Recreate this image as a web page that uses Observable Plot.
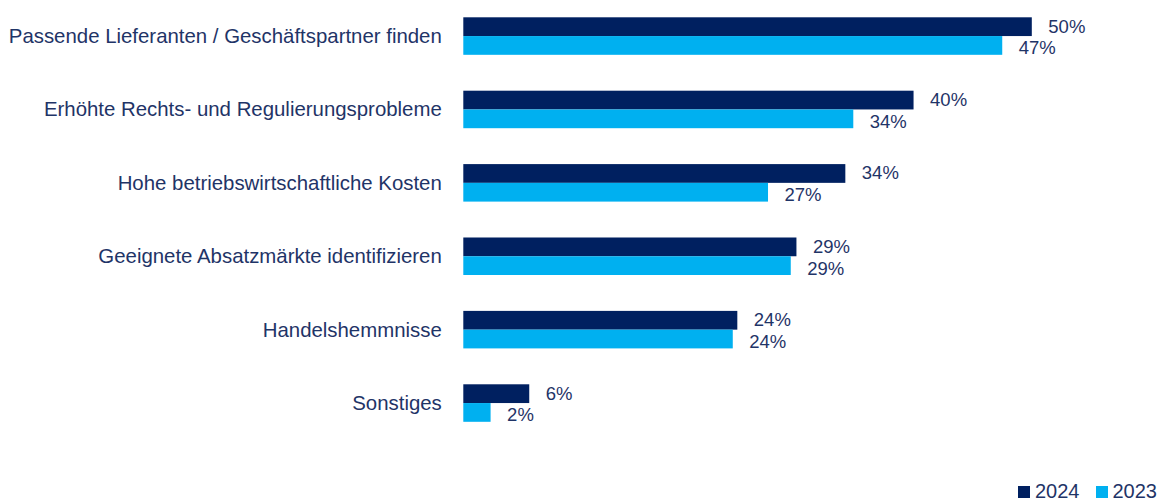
<!DOCTYPE html>
<html>
<head>
<meta charset="utf-8">
<script src="https://cdn.jsdelivr.net/npm/d3@7"></script>
<script src="https://cdn.jsdelivr.net/npm/@observablehq/plot@0.6"></script>
<style>
  body { margin: 0; background: #fff; font-family: "Liberation Sans", Arial, sans-serif; }
  #wrap { position: relative; width: 1159px; height: 501px; overflow: hidden; }
  #legend { position: absolute; left: 1018px; top: 480px; display: flex; align-items: center; font-size: 20px; color: #1f3467; }
  #legend .sw { width: 12px; height: 12px; display: inline-block; margin-right: 5px; }
  #legend .item { display: flex; align-items: center; margin-right: 16px; }
  #legend .item:last-child { margin-right: 0; }
</style>
</head>
<body>
<div id="wrap"><div id="chart"></div><div id="legend"></div></div>
<script>
const categories = [
  "Passende Lieferanten / Geschäftspartner finden",
  "Erhöhte Rechts- und Regulierungsprobleme",
  "Hohe betriebswirtschaftliche Kosten",
  "Geeignete Absatzmärkte identifizieren",
  "Handelshemmnisse",
  "Sonstiges"
];
const years = ["2024", "2023"];
const values2024 = [50.0, 39.6, 33.6, 29.3, 24.1, 5.8];
const values2023 = [47.4, 34.3, 26.8, 28.8, 23.7, 2.4];
const colors = ["#002060", "#00b0f0"];
const textColor = "#1f3467";

const rows = categories.flatMap((c, i) => [
  {cat: c, year: "2024", value: values2024[i]},
  {cat: c, year: "2023", value: values2023[i]}
]);

const chart = Plot.plot({
  width: 1159,
  height: 440,
  marginLeft: 463.3,
  marginRight: 13.5,
  marginTop: 17.3,
  marginBottom: 18.2,
  style: {fontFamily: "'Liberation Sans', Arial, sans-serif", fontSize: "20px", color: textColor, background: "#fff"},
  x: {domain: [0, 60], axis: null},
  y: {domain: years, axis: null, padding: 0, round: false},
  fy: {domain: categories, paddingInner: 0.489, paddingOuter: 0, round: false, axis: null},
  color: {domain: years, range: colors},
  marks: [
    Plot.barX(rows, {fy: "cat", y: "year", x: "value", fill: "year"}),
    Plot.text(rows.filter(d => d.year === "2024"), {fy: "cat", y: "year", x: "value", text: d => Math.round(d.value) + "%", dx: 16, dy: -0.5, textAnchor: "start", fill: textColor, fontSize: 18.5}),
    Plot.text(rows.filter(d => d.year === "2023"), {fy: "cat", y: "year", x: "value", text: d => Math.round(d.value) + "%", dx: 16, dy: 2.5, textAnchor: "start", fill: textColor, fontSize: 18.5}),
    Plot.axisFy({anchor: "left", tickSize: 0, tickPadding: 22, label: null, fontSize: 20.4, fill: textColor})
  ]
});
document.getElementById("chart").appendChild(chart);

const legend = document.getElementById("legend");
years.forEach((y, i) => {
  const item = document.createElement("span");
  item.className = "item";
  const sw = document.createElement("span");
  sw.className = "sw";
  sw.style.background = colors[i];
  item.appendChild(sw);
  item.appendChild(document.createTextNode(y));
  legend.appendChild(item);
});
</script>
</body>
</html>
